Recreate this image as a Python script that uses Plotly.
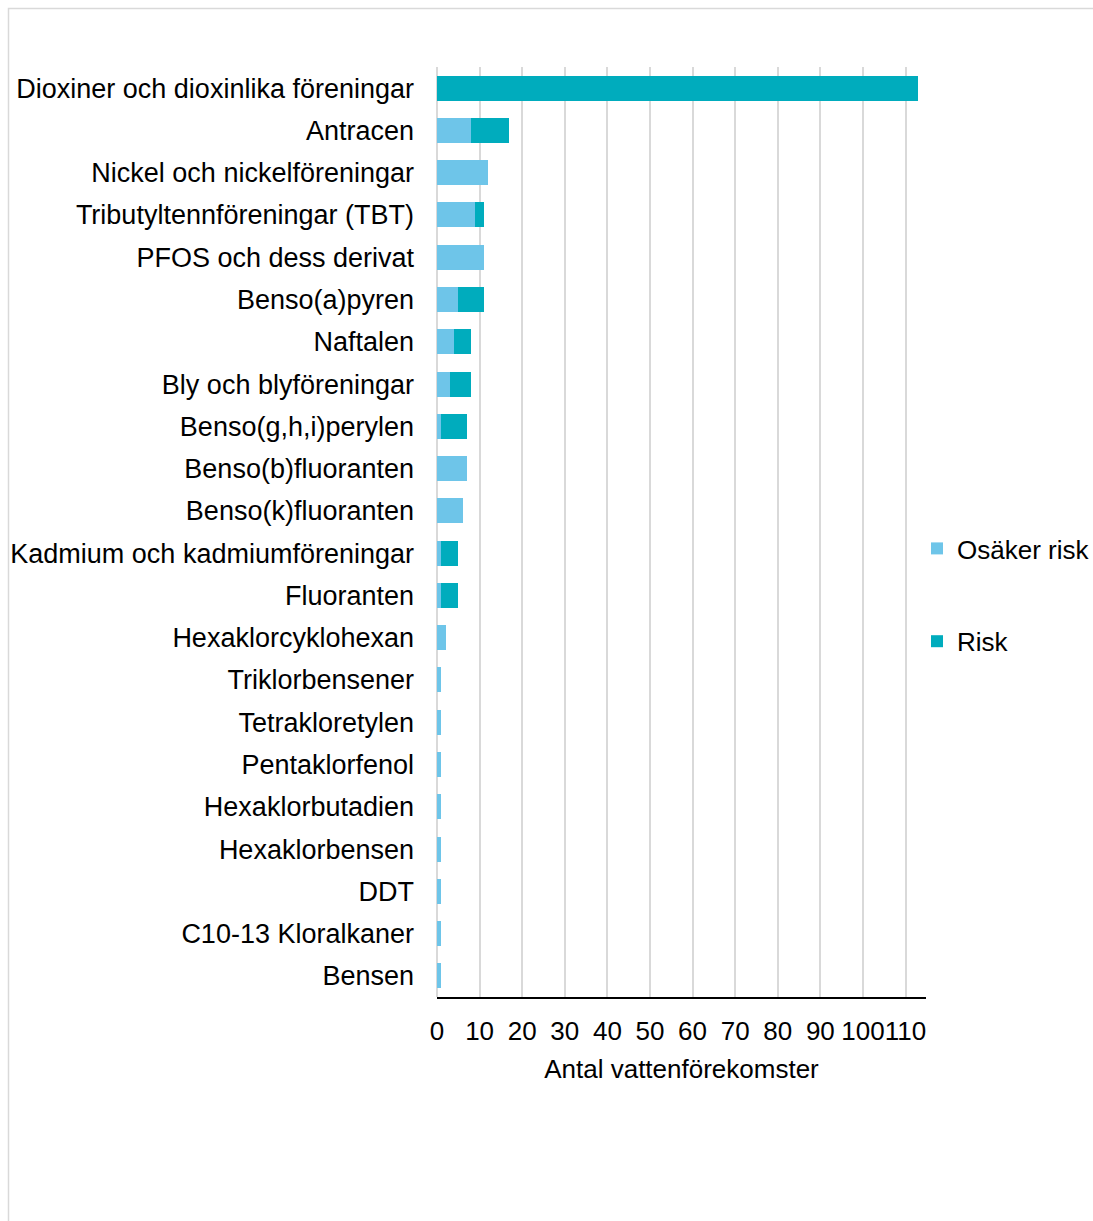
import plotly.graph_objects as go

# Ämnen, ordnade uppifrån och ned
amnen = [
    "Dioxiner och dioxinlika föreningar",
    "Antracen",
    "Nickel och nickelföreningar",
    "Tributyltennföreningar (TBT)",
    "PFOS och dess derivat",
    "Benso(a)pyren",
    "Naftalen",
    "Bly och blyföreningar",
    "Benso(g,h,i)perylen",
    "Benso(b)fluoranten",
    "Benso(k)fluoranten",
    "Kadmium och kadmiumföreningar",
    "Fluoranten",
    "Hexaklorcyklohexan",
    "Triklorbensener",
    "Tetrakloretylen",
    "Pentaklorfenol",
    "Hexaklorbutadien",
    "Hexaklorbensen",
    "DDT",
    "C10-13 Kloralkaner",
    "Bensen",
]

osaker_risk = [0, 8, 12, 9, 11, 5, 4, 3, 1, 7, 6, 1, 1, 2, 1, 1, 1, 1, 1, 1, 1, 1]
risk = [113, 9, 0, 2, 0, 6, 4, 5, 6, 0, 0, 4, 4, 0, 0, 0, 0, 0, 0, 0, 0, 0]

x_ticks = [0, 10, 20, 30, 40, 50, 60, 70, 80, 90, 100, 110]

FONT = "Liberation Sans, Arial, sans-serif"
FS = 26

fig = go.Figure()
fig.add_trace(go.Bar(
    y=amnen, x=osaker_risk, orientation="h", name="Osäker risk",
    marker=dict(color="#6EC5E9", line=dict(width=0)), legendgroup="a",
))
fig.add_trace(go.Bar(
    y=amnen, x=risk, orientation="h", name="Risk",
    marker=dict(color="#00ACBD", line=dict(width=0)), legendgroup="b",
))

L, R, T, B = 437, 1093 - 926, 67, 1221 - 997
W, H = 1093, 1221
pw, ph = W - L - R, H - T - B

fig.update_layout(
    width=W, height=H,
    margin=dict(l=L, r=R, t=T, b=B, pad=0, autoexpand=False),
    barmode="stack", bargap=0.41,
    plot_bgcolor="white", paper_bgcolor="white",
    font=dict(family=FONT, size=FS, color="#000000"),
    showlegend=True,
    legend=dict(
        x=(917 - L) / pw, xanchor="left",
        y=(997 - 525) / ph, yanchor="top",
        traceorder="grouped", tracegroupgap=56,
        font=dict(size=FS), itemwidth=30,
        bgcolor="rgba(0,0,0,0)",
    ),
    xaxis=dict(
        range=[0, 114.8], tickvals=x_ticks, ticktext=[str(v) for v in x_ticks],
        tickangle=0,
        showgrid=True, gridcolor="#D9D9D9", gridwidth=1.5,
        zeroline=True, zerolinecolor="#D9D9D9", zerolinewidth=1.5,
        showline=True, linecolor="#000000", linewidth=1.5,
        ticks="", ticklabelstandoff=10,
        title=dict(text="Antal vattenförekomster", standoff=15, font=dict(size=FS)),
        fixedrange=True,
    ),
    yaxis=dict(
        categoryorder="array", categoryarray=amnen, autorange="reversed",
        showgrid=False, zeroline=False, showline=False,
        ticks="", ticklabelstandoff=22, tickfont=dict(size=27),
        fixedrange=True,
    ),
    shapes=[dict(
        type="rect", xref="paper", yref="paper",
        x0=(8.5 - L) / pw, x1=(1110 - L) / pw,
        y0=(997 - 1240) / ph, y1=(997 - 8.5) / ph,
        line=dict(color="#D9D9D9", width=1.5), fillcolor="rgba(0,0,0,0)",
        layer="below",
    )],
)

fig.write_html("out.html")
